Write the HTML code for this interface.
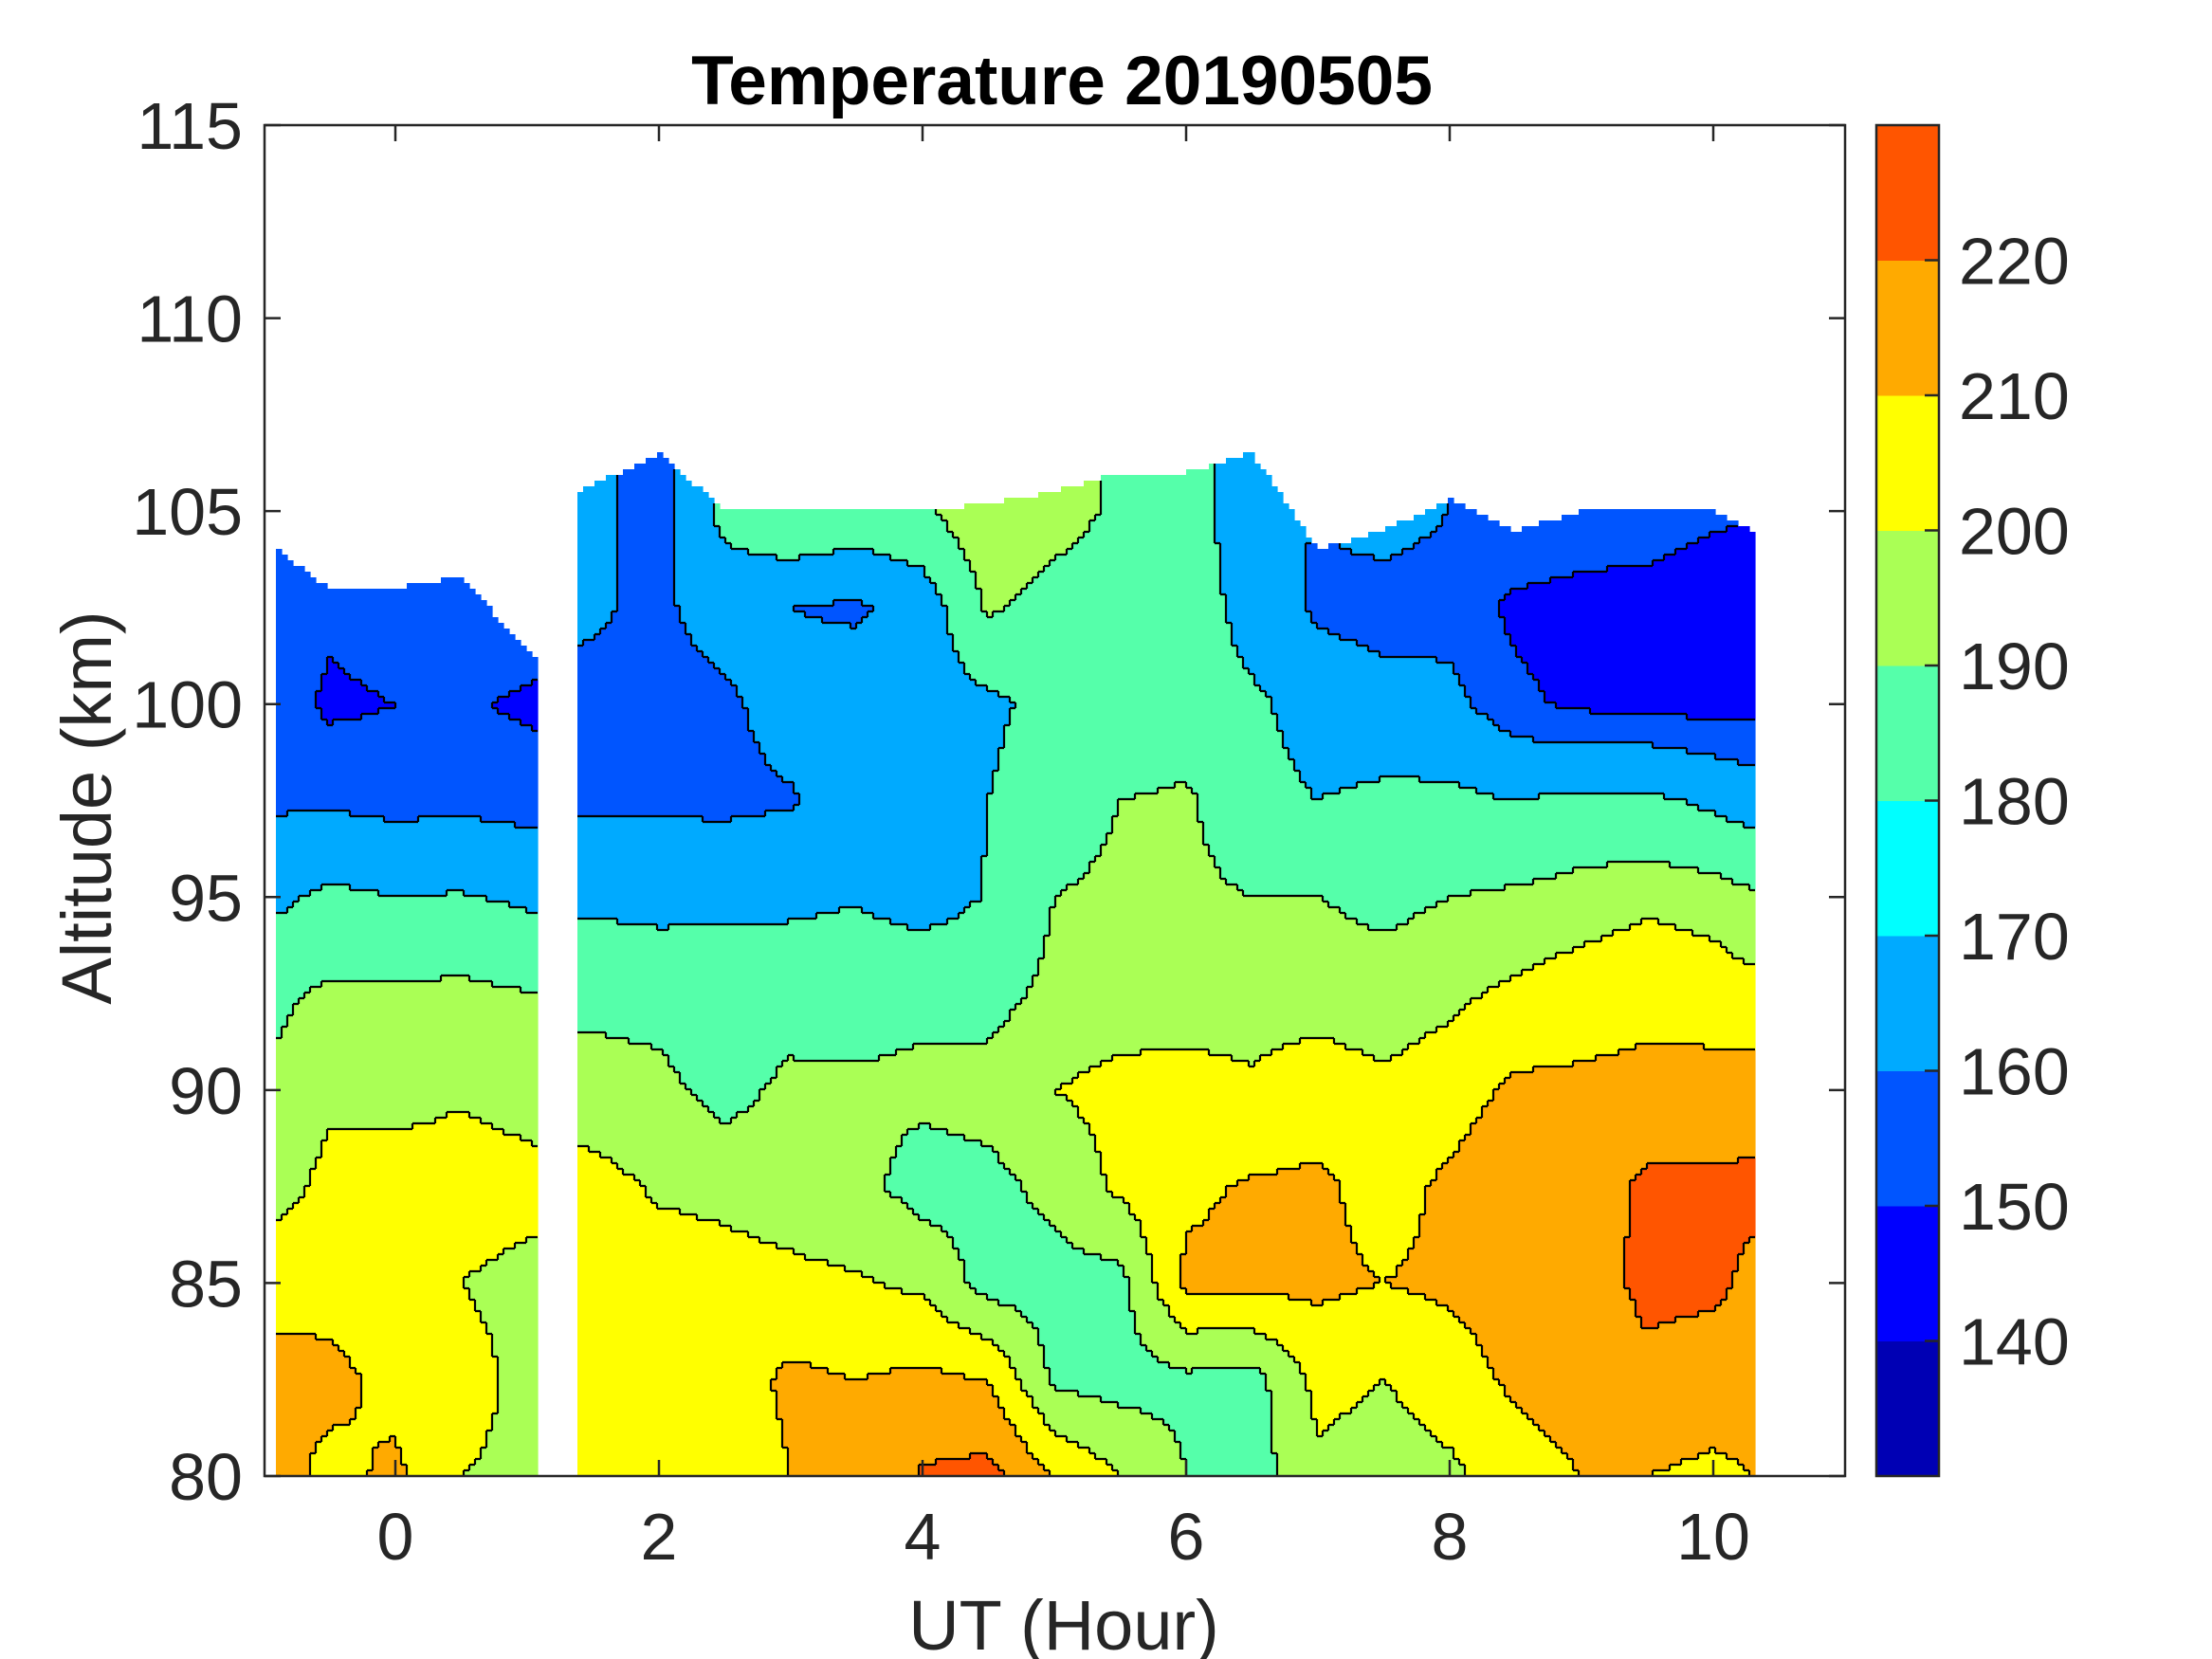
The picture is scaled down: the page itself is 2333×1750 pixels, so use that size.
<!DOCTYPE html>
<html><head><meta charset="utf-8"><style>
html,body{margin:0;padding:0;background:#fff;}
svg{display:block;font-family:"Liberation Sans",Arial,sans-serif;}
</style></head><body>
<svg id="chart" width="2333" height="1750" viewBox="0 0 2333 1750">
<g id="cells"></g>
<g id="axes"></g>
</svg>
<script>
const times = [-0.9,-0.5,0,0.5,1.1,1.4,2,2.5,3,3.5,4,4.5,5,5.5,6,6.5,7,7.5,8,8.5,9,9.5,10,10.3];
const alts = [80,82.5,85,87.5,90,92.5,95,97.5,100,102.5,105,107.5];
const topAlt = [104,103,103,103.3,101,105.5,106.5,105,105,105,105,105.2,105.5,106,106,106.5,104,104.5,105.3,104.5,105,105,105,104.5];
const gaps = [[1.1,1.4]];
// temps[column][row] for rows = alts
const temps = [
[214,213,207,196,192,188,172,158,155,158,160,160],
[207,213,206,203,198,192,178,158,148,152,158,158],
[212,207,202,204,197,192,175,156,150,156,160,160],
[200,203,200,204,199,193,176,157,151,157,165,165],
[198,197,197,203,196,190,172,155,148,156,160,160],
[202,205,202,204,195,187,172,158,157,162,165,165],
[200,205,204,199,193,186,170,158,156,158,155,155],
[204,205,203,198,186,182,172,157,158,165,180,180],
[210,212,202,196,193,184,172,159,165,160,190,190],
[212,210,201,193,192,185,174,164,168,158,185,185],
[221,212,198,186,192,188,168,166,168,166,188,188],
[223,210,186,187,194,186,176,175,172,192,200,200],
[210,188,186,193,200,193,190,185,180,185,195,195],
[200,186,187,202,203,195,192,190,178,182,188,188],
[190,188,212,208,203,196,193,192,182,185,185,185],
[185,186,213,211,201,197,190,180,178,168,162,162],
[198,203,212,212,205,196,190,175,168,158,160,160],
[195,200,210,206,202,195,187,178,165,155,165,165],
[198,205,212,212,205,198,190,178,164,155,160,160],
[205,212,215,218,212,202,192,175,152,148,158,158],
[210,215,216,215,212,205,195,178,148,147,155,155],
[210,218,222,222,213,207,198,178,147,146,155,155],
[208,215,222,222,214,205,196,172,146,143,152,152],
[210,215,218,222,215,203,192,168,146,145,150,150]
];
const levels = [130,140,150,160,170,180,190,200,210,220,230];
const levelColors = ['#0000B4','#0000FF','#0055FF','#00AAFF','#00FFFF','#55FFAA','#AAFF55','#FFFF00','#FFAA00','#FF5500'];
const xTicks = [0,2,4,6,8,10];
const yTicks = [80,85,90,95,100,105,110,115];
const cbTicks = [140,150,160,170,180,190,200,210,220];

const PL=279, PR=1946, PT=132, PB=1557;
const X0=417, XS=139;
const xPix = t => X0 + XS*t;
const xVal = x => (x - X0)/XS;
const yPix = a => PB - (PB-PT)/35*(a-80);
const yVal = y => 80 + (PB-y)*35/(PB-PT);
const CBL=1979, CBR=2045;
const cbY = v => PB - (PB-PT)/100*(v-130);
const NS='http://www.w3.org/2000/svg';
function levelIdx(v){
  let k=0;
  while(k<levelColors.length-1 && v>=levels[k+1]) k++;
  if(k===4) k = v<175 ? 3 : 5;
  return k;
}
function mk(tag, attrs, parent){
  const e=document.createElementNS(NS,tag);
  for(const k in attrs) e.setAttribute(k,attrs[k]);
  parent.appendChild(e); return e;
}
function sample(t,a){
  if(t<times[0]||t>times[times.length-1]) return null;
  let i=0; while(i<times.length-2 && t>times[i+1]) i++;
  const t0=times[i], t1=times[i+1];
  if(gaps.some(g=>t>g[0]&&t<g[1])) return null;
  const fx=(t-t0)/(t1-t0);
  const top=topAlt[i]+(topAlt[i+1]-topAlt[i])*fx;
  if(a>top||a<80) return null;
  let j=0; while(j<alts.length-2 && a>alts[j+1]) j++;
  const fy=(a-alts[j])/(alts[j+1]-alts[j]);
  return (1-fx)*(1-fy)*temps[i][j]+fx*(1-fy)*temps[i+1][j]+(1-fx)*fy*temps[i][j+1]+fx*fy*temps[i+1][j+1];
}
const cells=document.getElementById('cells');
const STEP=6;
const NCX=Math.ceil((PR-PL)/STEP), NCY=Math.ceil((PB-PT)/STEP);
const grid=[];
for(let c=0;c<NCX;c++){
  const col=[]; const t=xVal(PL+(c+0.5)*STEP);
  for(let r=0;r<NCY;r++){
    const a=yVal(PB-(r+0.5)*STEP);
    const v=sample(t,a);
    col.push(v===null?-1:levelIdx(v));
  }
  grid.push(col);
}
for(let c=0;c<NCX;c++){
  let r=0;
  while(r<NCY){
    const k=grid[c][r];
    let r2=r; while(r2+1<NCY && grid[c][r2+1]===k) r2++;
    if(k>=0){
      const x=PL+c*STEP, yb=PB-r*STEP, yt=Math.max(PT,PB-(r2+1)*STEP);
      const rc=mk('rect',{x:x,y:yt,width:STEP+0.6,height:yb-yt+0.6,fill:levelColors[k]},cells);
      
      
    }
    r=r2+1;
  }
}
let d='';
for(let c=0;c<NCX;c++){
  for(let r=0;r<NCY;r++){
    const k=grid[c][r]; if(k<0) continue;
    if(c+1<NCX && grid[c+1][r]>=0 && grid[c+1][r]!==k){
      const x=PL+(c+1)*STEP; d+=`M${x} ${PB-r*STEP}V${PB-(r+1)*STEP}`;
    }
    if(r+1<NCY && grid[c][r+1]>=0 && grid[c][r+1]!==k){
      const y=PB-(r+1)*STEP; d+=`M${PL+c*STEP} ${y}H${PL+(c+1)*STEP}`;
    }
  }
}
const cl=mk('path',{d:d,fill:'none',stroke:'#000','stroke-width':2.2},cells);



const axes=document.getElementById('axes');
const frame=mk('rect',{x:PL,y:PT,width:PR-PL,height:PB-PT,fill:'none',stroke:'#262626','stroke-width':2.5},axes);


xTicks.forEach(t=>{
  const x=xPix(t);
  mk('line',{x1:x,y1:PB,x2:x,y2:PB-17,stroke:'#262626','stroke-width':2.5},axes);
  mk('line',{x1:x,y1:PT,x2:x,y2:PT+17,stroke:'#262626','stroke-width':2.5},axes);
  const tx=mk('text',{x:x,y:1645,'font-size':70,'text-anchor':'middle',fill:'#262626'},axes);
  tx.textContent=t;
  
  
});
yTicks.forEach(a=>{
  const y=yPix(a);
  mk('line',{x1:PL,y1:y,x2:PL+17,y2:y,stroke:'#262626','stroke-width':2.5},axes);
  mk('line',{x1:PR,y1:y,x2:PR-17,y2:y,stroke:'#262626','stroke-width':2.5},axes);
  const tx=mk('text',{x:256,y:y+25,'font-size':70,'text-anchor':'end',fill:'#262626'},axes);
  tx.textContent=a;
  
  
});
for(let k=0;k<levelColors.length;k++){
  const r=mk('rect',{x:CBL,y:cbY(levels[k+1]),width:CBR-CBL,height:cbY(levels[k])-cbY(levels[k+1])+0.5,fill:levelColors[k]},axes);
  
  
}
const cbf=mk('rect',{x:CBL,y:PT,width:CBR-CBL,height:PB-PT,fill:'none',stroke:'#262626','stroke-width':2.5},axes);


cbTicks.forEach(v=>{
  const y=cbY(v);
  mk('line',{x1:CBR-15,y1:y,x2:CBR,y2:y,stroke:'#262626','stroke-width':2.5},axes);
  const tx=mk('text',{x:2066,y:y+25,'font-size':70,fill:'#262626'},axes);
  tx.textContent=v;
  
  
});
const title=mk('text',{x:1120,y:110,'font-size':73,'font-weight':'bold','text-anchor':'middle',fill:'#000'},axes);
title.textContent='Temperature 20190505';


const xl=mk('text',{x:1122,y:1740,'font-size':74,'text-anchor':'middle',fill:'#262626'},axes);
xl.textContent='UT (Hour)';


const yl=mk('text',{x:0,y:0,'font-size':74,'text-anchor':'middle',fill:'#262626',transform:'translate(117,852) rotate(-90)'},axes);
yl.textContent='Altitude (km)';


</script>
</body></html>
